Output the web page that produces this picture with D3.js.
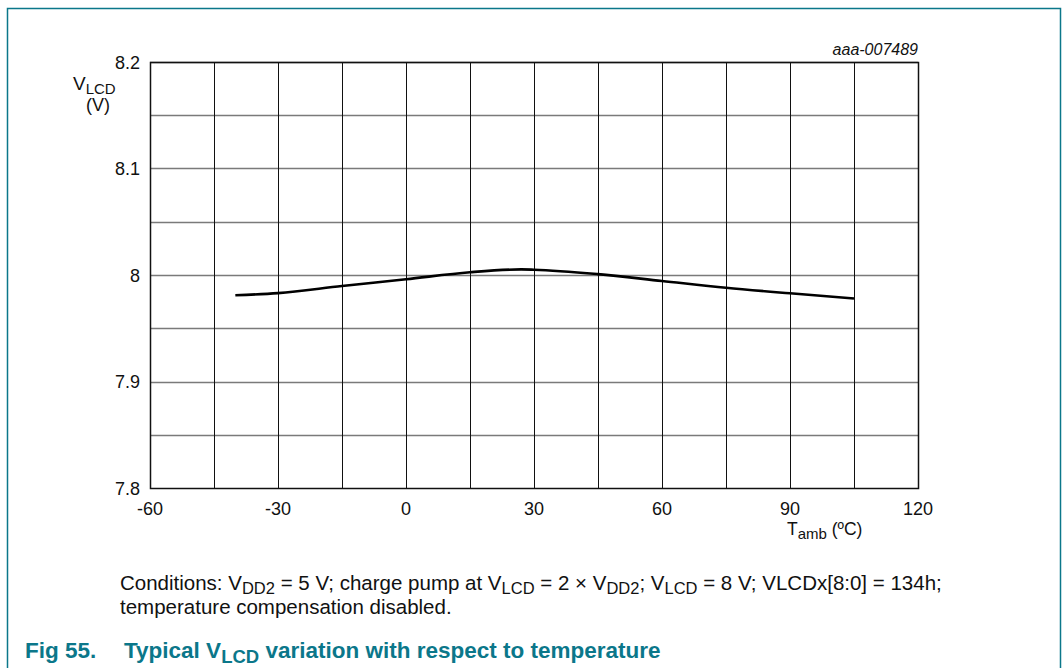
<!DOCTYPE html>
<html>
<head>
<meta charset="utf-8">
<script src="https://cdn.jsdelivr.net/npm/d3@7"></script>
<style>
  body { margin: 0; background: #fff; }
  svg { display: block; font-family: "Liberation Sans", Arial, sans-serif; }
</style>
</head>
<body>
<svg width="1063" height="668"></svg>
<script>
// data
var temps = [-40, -30, -15, 0, 15, 27, 30, 45, 60, 75, 90, 105];
var vlcd = [7.981, 7.983, 7.9897, 7.996, 8.0026, 8.0053, 8.005, 8.0008, 7.9944, 7.988, 7.9828, 7.978];
var xTicks = [-60, -30, 0, 30, 60, 90, 120];
var yTicks = [7.8, 7.9, 8.0, 8.1, 8.2];
var yTickLabels = ["7.8", "7.9", "8", "8.1", "8.2"];

var teal = "#0b778a";

var svg = d3.select("svg");

// frame
svg.append("path")
    .attr("d", "M7.5,668V8.5H1060.5V668")
    .attr("fill", "none")
    .attr("stroke", teal)
    .attr("stroke-width", 1.5);

var x = d3.scaleLinear().domain([-60, 120]).range([150, 918]);
var y = d3.scaleLinear().domain([7.8, 8.2]).range([488, 62]);

var g = svg.append("g");

// horizontal grid (grey), every 0.05
g.selectAll("line.h")
    .data(d3.range(8).map(function (i) { return 7.85 + i * 0.05; }))
    .enter().append("line")
    .attr("class", "h")
    .attr("x1", x(-60)).attr("x2", x(120))
    .attr("y1", function (d) { return Math.round(y(d)) + 0.5; })
    .attr("y2", function (d) { return Math.round(y(d)) + 0.5; })
    .attr("stroke", "#7a7a7a")
    .attr("stroke-width", 1.4);

// vertical grid every 15
g.selectAll("line.v")
    .data(d3.range(11).map(function (i) { return -45 + i * 15; }))
    .enter().append("line")
    .attr("class", "v")
    .attr("y1", y(8.2)).attr("y2", y(7.8))
    .attr("x1", function (d) { return Math.round(x(d)) + 0.5; })
    .attr("x2", function (d) { return Math.round(x(d)) + 0.5; })
    .attr("stroke", "#111")
    .attr("stroke-width", 1);

// plot frame
g.append("rect")
    .attr("x", x(-60) + 0.5).attr("y", y(8.2) + 0.5)
    .attr("width", x(120) - x(-60)).attr("height", y(7.8) - y(8.2))
    .attr("fill", "none")
    .attr("stroke", "#111")
    .attr("stroke-width", 1.5);

// curve
var line = d3.line()
    .x(function (d, i) { return x(temps[i]); })
    .y(function (d) { return y(d); })
    .curve(d3.curveMonotoneX);

g.append("path")
    .datum(vlcd)
    .attr("d", line)
    .attr("fill", "none")
    .attr("stroke", "#000")
    .attr("stroke-width", 2.6);

// tick labels
svg.selectAll("text.xt")
    .data(xTicks)
    .enter().append("text")
    .attr("class", "xt")
    .attr("x", function (d) { return x(d); })
    .attr("y", 515)
    .attr("text-anchor", "middle")
    .attr("font-size", 18)
    .attr("fill", "#111")
    .text(function (d) { return d; });

svg.selectAll("text.yt")
    .data(yTicks)
    .enter().append("text")
    .attr("class", "yt")
    .attr("x", 140)
    .attr("y", function (d) { return y(d) + 6.5; })
    .attr("text-anchor", "end")
    .attr("font-size", 18)
    .attr("fill", "#111")
    .text(function (d, i) { return yTickLabels[i]; });

// axis titles
var yl = svg.append("text").attr("x", 73).attr("y", 90).attr("font-size", 19).attr("fill", "#111");
yl.append("tspan").text("V");
yl.append("tspan").attr("dy", 4).attr("font-size", 15).text("LCD");
svg.append("text").attr("x", 98).attr("y", 111).attr("text-anchor", "middle")
    .attr("font-size", 18).attr("fill", "#111").text("(V)");

var xl = svg.append("text").attr("x", 787).attr("y", 535).attr("font-size", 17.5).attr("fill", "#111");
xl.append("tspan").text("T");
xl.append("tspan").attr("dy", 4).attr("font-size", 15).text("amb");
xl.append("tspan").attr("dy", -4).text(" (\u00baC)");

svg.append("text").attr("x", 918).attr("y", 55).attr("text-anchor", "end")
    .attr("font-size", 16).attr("font-style", "italic").attr("fill", "#111").text("aaa-007489");

// conditions note
var c1 = svg.append("text").attr("x", 120).attr("y", 590).attr("font-size", 20.5).attr("fill", "#111");
var parts = [["Conditions: V", 0], ["DD2", 1], [" = 5 V; charge pump at V", 0], ["LCD", 1], [" = 2 \u00d7 V", 0], ["DD2", 1],
    ["; V", 0], ["LCD", 1], [" = 8 V; VLCDx[8:0] = 134h;", 0]];
var prev = 0;
parts.forEach(function (p) {
    var t = c1.append("tspan").text(p[0]).attr("dy", (p[1] - prev) * 4);
    if (p[1]) t.attr("font-size", 16.5);
    prev = p[1];
});
svg.append("text").attr("x", 120).attr("y", 614).attr("font-size", 20.5).attr("fill", "#111")
    .text("temperature compensation disabled.");

// caption
var cap = svg.append("text").attr("x", 25).attr("y", 658).attr("font-size", 22.5)
    .attr("font-weight", "bold").attr("fill", teal);
cap.append("tspan").text("Fig 55.");
cap.append("tspan").attr("x", 124).text("Typical V");
cap.append("tspan").attr("dy", 5).attr("font-size", 18.5).text("LCD");
cap.append("tspan").attr("dy", -5).text(" variation with respect to temperature");
</script>
</body>
</html>
